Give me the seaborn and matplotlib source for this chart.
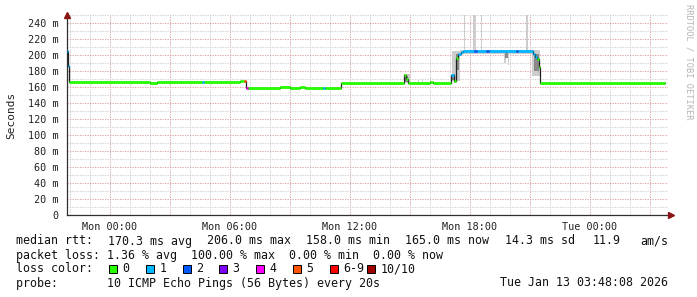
import numpy as np
import pandas as pd
import matplotlib
matplotlib.use("Agg")
import matplotlib.pyplot as plt
import seaborn as sns
from matplotlib.ticker import MultipleLocator, FuncFormatter
from matplotlib.patches import Rectangle

# ---------------- data (time in hours relative to Mon 00:00, rtt in ms) ----------------
med_t = [-2.15, -2.10, -2.05, 2.00, 2.35, 4.62, 4.72, 6.50, 6.72, 6.80, 6.92, 8.50, 9.00,
         9.50, 9.75, 10.65, 10.75, 11.57, 14.72, 14.82, 14.92, 16.00, 16.15, 17.05, 17.20,
         17.30, 17.40, 17.55, 17.65, 18.20, 18.35, 18.80, 18.95, 20.30, 20.40, 21.15, 21.25,
         21.35, 21.45, 21.50, 27.75]
med_v = [205, 187, 167, 165.5, 167, 167, 167, 168, 168, 159.5, 158.5, 160, 158.5,
         160, 158.5, 158.5, 158.5, 165.5, 175, 170, 165.5, 167, 165.5, 175, 168,
         196, 202, 204, 205.5, 205.5, 205.5, 205.5, 205.5, 205.5, 205.5, 201, 198,
         195, 185, 165]
med_loss = [1, 1, 0, 0, 0, 1, 0, 0, 5, 4, 0, 0, 0,
            0, 0, 1, 0, 0, 0, 0, 0, 0, 0, 1, 0,
            0, 1, 1, 1, 2, 1, 2, 1, 2, 1, 1, 1,
            0, 0, 0]

# smoke (ping spread) : light outer band and darker inner band
smoke_t0 = [14.70, 15.42, 15.62, 15.98, 16.33, 16.53, 16.88, 17.12, 17.50, 17.72, 18.15, 18.55,
            19.72, 19.88, 20.82, 21.10]
smoke_t1 = [14.98, 15.46, 15.66, 16.04, 16.37, 16.57, 16.92, 17.48, 21.10, 17.76, 18.30, 18.59,
            19.80, 19.95, 20.90, 21.52]
smoke_lo = [165, 165, 165, 165, 165, 165, 165, 168, 202, 203, 204, 204, 190, 188, 204, 174]
smoke_hi = [176, 169, 169, 173, 169, 170, 169, 205, 207, 250, 250, 250, 204, 204, 250, 206]

core_t0 = [14.74, 17.10, 17.30, 19.74, 21.18]
core_t1 = [14.90, 17.25, 17.46, 19.90, 21.45]
core_lo = [167, 169, 182, 196, 180]
core_hi = [174, 176, 202, 204, 202]

loss_colors = {0: "#26ff00", 1: "#00b8ff", 2: "#0059ff", 3: "#7e00ff",
               4: "#ff00ff", 5: "#ff5500", 6: "#ff0000", 10: "#a10000"}
legend_keys = ["0", "1", "2", "3", "4", "5", "6-9", "10/10"]
legend_cols = ["#26ff00", "#00b8ff", "#0059ff", "#7e00ff", "#ff00ff", "#ff5500", "#ff0000", "#a10000"]

x_ticks_hours = [0, 6, 12, 18, 24]
x_tick_labels = ["Mon 00:00", "Mon 06:00", "Mon 12:00", "Mon 18:00", "Tue 00:00"]

stats_fields = ["median rtt:", "170.3 ms avg", "206.0 ms max", "158.0 ms min",
                "165.0 ms now", "14.3 ms sd", "11.9", "am/s"]
loss_line = "packet loss: 1.36 % avg  100.00 % max  0.00 % min  0.00 % now"
probe_line = "probe:       10 ICMP Echo Pings (56 Bytes) every 20s"
stamp = "Tue Jan 13 03:48:08 2026"

# ---------------- figure ----------------
sns.set_theme(style="white")
plt.rcParams["font.family"] = ["DejaVu Sans Mono"]
W, H = 697, 297
fig = plt.figure(figsize=(W / 100, H / 100), dpi=100)
fig.patch.set_facecolor("white")

def fx(x):
    return x / W

def fy(y):
    return 1 - y / H

ax = fig.add_axes([fx(67), fy(215), fx(668) - fx(67), fy(14.5) - fy(215)])
ax.set_facecolor("white")
ax.set_xlim(-2.15, 27.9)
ax.set_ylim(0, 251)

# grid
ax.xaxis.set_major_locator(MultipleLocator(3))
ax.xaxis.set_minor_locator(MultipleLocator(1))
ax.yaxis.set_major_locator(MultipleLocator(20))
ax.yaxis.set_minor_locator(MultipleLocator(10))
ax.grid(which="minor", color="#cfcfcf", linestyle=(0, (1.2, 1.2)), linewidth=0.75)
ax.grid(which="major", color="#dca6a6", linestyle=(0, (1.2, 1.2)), linewidth=0.75)
ax.set_axisbelow(True)

lab = dict(zip(x_ticks_hours, x_tick_labels))
ax.xaxis.set_major_formatter(FuncFormatter(lambda v, p: lab.get(int(round(v)), "") if abs(v - round(v)) < 1e-6 else ""))
ax.yaxis.set_major_formatter(FuncFormatter(lambda v, p: "0" if v == 0 else f"{int(v)} m"))
ax.tick_params(axis="both", which="both", length=0, labelsize=7.3, colors="#222222")
ax.tick_params(axis="x", pad=5)
ax.tick_params(axis="y", pad=6)

for s in ["top", "right"]:
    ax.spines[s].set_visible(False)
for s in ["left", "bottom"]:
    ax.spines[s].set_color("#303030")
    ax.spines[s].set_linewidth(0.9)

# smoke
ax.bar(smoke_t0, np.array(smoke_hi) - np.array(smoke_lo), bottom=smoke_lo,
       width=np.array(smoke_t1) - np.array(smoke_t0), align="edge",
       color="#cdcdcd", linewidth=0, zorder=2)
ax.bar(core_t0, np.array(core_hi) - np.array(core_lo), bottom=core_lo,
       width=np.array(core_t1) - np.array(core_t0), align="edge",
       color="#8a8a8a", linewidth=0, zorder=2)

# median: dark thin step line + colored loss segments
rows, step = [], []
for i, v in enumerate(med_v):
    t0, t1 = med_t[i], med_t[i + 1]
    rows.append(dict(t=t0, ms=v, seg=i, loss=med_loss[i]))
    rows.append(dict(t=t1, ms=v, seg=i, loss=med_loss[i]))
    step.append(dict(t=t0, ms=v))
    step.append(dict(t=t1, ms=v))
seg_df = pd.DataFrame(rows)
step_df = pd.DataFrame(step)

sns.lineplot(data=step_df, x="t", y="ms", sort=False, estimator=None, color="#202020",
             linewidth=0.9, ax=ax, zorder=3)
sns.lineplot(data=seg_df, x="t", y="ms", hue="loss", units="seg", estimator=None,
             palette={k: loss_colors[k] for k in sorted(set(med_loss))}, sort=False,
             linewidth=2.0, legend=False, ax=ax, zorder=4, solid_capstyle="butt")
ax.set_xlabel("")
ax.set_ylabel("")

# axis arrows
ax.plot([0], [1.0], marker="^", markersize=4, color="#8b1414", transform=ax.transAxes,
        clip_on=False, zorder=6)
ax.plot([1.005], [0], marker=">", markersize=4, color="#8b1414", transform=ax.transAxes,
        clip_on=False, zorder=6)

# y label and watermark
fig.text(fx(11), fy(115), "Seconds", rotation=90, ha="center", va="center",
         fontsize=8, color="#222222")
fig.text(fx(689), fy(4), "RRDTOOL / TOBI OETIKER", rotation=270, ha="center", va="top",
         fontsize=6.2, color="#b4b4b4")

# legend / stats text
fs = 8.42
field_x = [16.5, 108, 207, 306, 405, 505, 593, 640]
for sx, txt in zip(field_x, stats_fields):
    fig.text(fx(sx), fy(241), txt, ha="left", va="center", fontsize=fs, color="#111111")
fig.text(fx(16.5), fy(255), loss_line, ha="left", va="center", fontsize=fs, color="#111111")
fig.text(fx(16.5), fy(269), "loss color:", ha="left", va="center", fontsize=fs, color="#111111")
box_x = [109, 146, 183, 219, 256, 293, 330, 367]
for bx, key, col in zip(box_x, legend_keys, legend_cols):
    fig.patches.append(Rectangle((fx(bx), fy(272.5)), fx(8), fy(0) - fy(8),
                                 transform=fig.transFigure, facecolor=col,
                                 edgecolor="#000000", linewidth=0.7))
    fig.text(fx(bx + 13.5), fy(269), key, ha="left", va="center", fontsize=fs, color="#111111")
fig.text(fx(16.5), fy(283), probe_line, ha="left", va="center", fontsize=fs, color="#111111")
fig.text(fx(668), fy(283), stamp, ha="right", va="center", fontsize=fs, color="#111111")

fig.savefig("out.png", dpi=100, facecolor="white")
